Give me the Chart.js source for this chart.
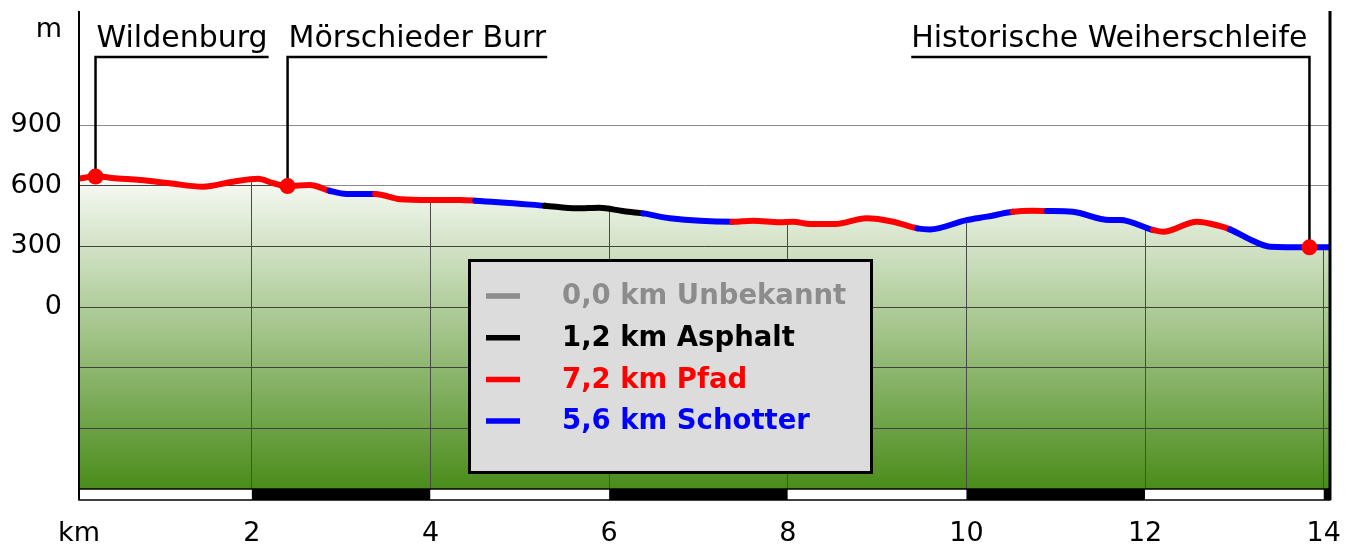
<!DOCTYPE html>
<html>
<head>
<meta charset="utf-8">
<script src="https://cdn.jsdelivr.net/npm/chart.js@4/dist/chart.umd.min.js"></script>
<style>
  html, body { margin: 0; padding: 0; background: #ffffff; }
  canvas { display: block; }
</style>
</head>
<body>
<canvas id="profile" width="1358" height="545"></canvas>
<script>
// DATA

const kmValues = [0.065, 0.25, 0.50, 0.75, 1.08, 1.45, 1.79, 2.07, 2.24, 2.40, 2.65, 2.87, 3.06, 3.38, 3.66, 4.00, 4.33, 4.50,
  5.28, 5.64, 5.89, 6.15, 6.38, 6.68, 7.38, 7.61, 7.91, 8.06, 8.25, 8.53, 8.88, 9.18, 9.45, 9.59, 10.00, 10.23, 10.52,
  10.74, 10.90, 11.19, 11.60, 11.72, 12.09, 12.20, 12.58, 12.84, 12.95, 13.17, 13.40, 13.84, 14.07];
const elevValues = [636, 645, 636, 628, 612, 595, 620, 634, 612, 598, 603, 575, 559, 559, 533, 529, 529, 526,
  501, 488, 491, 475, 463, 439, 422, 427, 419, 422, 410, 410, 439, 422, 389, 384, 430, 447, 471,
  476, 475, 471, 430, 430, 381, 372, 422, 400, 384, 335, 298, 295, 295];

// surface type of each stretch between two breaks
const surfaceBreaks = [0.065, 2.87, 3.38, 4.50, 5.28, 6.38, 7.38, 9.45, 10.52, 10.90, 12.09, 12.95, 14.07];
const surfaceOfStretch = ["Pfad", "Schotter", "Pfad", "Schotter", "Asphalt", "Schotter", "Pfad", "Schotter",
  "Pfad", "Schotter", "Pfad", "Schotter"];

const legendSurfaces = ["Unbekannt", "Asphalt", "Pfad", "Schotter"];
const legendKm = ["0,0", "1,2", "7,2", "5,6"];
const surfaceColors = ["#8c8c8c", "#000000", "#ff0000", "#0000ff"];

const poiNames = ["Wildenburg", "Mörschieder Burr", "Historische Weiherschleife"];
const poiKm = [0.25, 2.40, 13.84];
const poiElev = [645, 598, 295];
const poiSide = ["right", "right", "left"];

const xMin = 0.065;
const xMax = 14.07;
const xTickValues = [2, 4, 6, 8, 10, 12, 14];
const yMin = -900;
const yMax = 1464;
const yTickValues = [-900, -600, -300, 0, 300, 600, 900];
const yTickLabels = ["", "", "", "0", "300", "600", "900"];
const yUnitPos = 1371;

// HELPERS

function surfaceColor(name) {
  return surfaceColors[legendSurfaces.indexOf(name)];
}

function colorAtKm(km) {
  for (let i = 0; i < surfaceOfStretch.length; i++) {
    if (km >= surfaceBreaks[i] - 1e-6 && km < surfaceBreaks[i + 1] - 1e-6) {
      return surfaceColor(surfaceOfStretch[i]);
    }
  }
  return surfaceColor(surfaceOfStretch[surfaceOfStretch.length - 1]);
}

function alignPx(p) {
  return Math.round(p - 0.5) + 0.5;
}

const FONT = "'DejaVu Sans', 'Liberation Sans', sans-serif";
const profilePoints = kmValues.map((km, i) => ({ x: km, y: elevValues[i] }));

// PLUGINS

const background = {
  id: "background",
  beforeDraw(chart) {
    const { ctx, chartArea: a, scales } = chart;
    const g = ctx.createLinearGradient(0, scales.y.getPixelForValue(700), 0, a.bottom);
    g.addColorStop(0, "#ffffff");
    g.addColorStop(1, "#4a8c1a");
    ctx.save();
    ctx.fillStyle = g;
    ctx.fillRect(a.left, a.top, a.right - a.left, a.bottom - a.top);
    ctx.restore();
  }
};

// gray grid lines over the white sky and pointer lines of the places
const overlay = {
  id: "overlay",
  beforeDatasetsDraw(chart) {
    const { ctx, chartArea: a, scales } = chart;
    ctx.save();
    ctx.strokeStyle = "rgba(60,60,60,0.6)";
    ctx.lineWidth = 1;
    yTickValues.forEach(v => {
      const y = alignPx(scales.y.getPixelForValue(v));
      ctx.beginPath();
      ctx.moveTo(a.left, y);
      ctx.lineTo(a.right, y);
      ctx.stroke();
    });

    ctx.font = "30px " + FONT;
    ctx.strokeStyle = "#000000";
    ctx.lineWidth = 2.5;
    const lineY = 57;
    poiNames.forEach((name, i) => {
      const px = scales.x.getPixelForValue(poiKm[i]);
      const py = scales.y.getPixelForValue(poiElev[i]);
      const w = ctx.measureText(name).width;
      const endX = poiSide[i] === "right" ? px + 2 + w : px - 2 - w;
      ctx.beginPath();
      ctx.moveTo(px, py);
      ctx.lineTo(px, lineY);
      ctx.lineTo(endX, lineY);
      ctx.stroke();
    });
    ctx.restore();
  },
  afterDraw(chart) {
    const { ctx, chartArea: a, scales } = chart;
    ctx.save();

    // place names
    ctx.font = "30px " + FONT;
    ctx.fillStyle = "#000000";
    ctx.textBaseline = "alphabetic";
    poiNames.forEach((name, i) => {
      const px = scales.x.getPixelForValue(poiKm[i]);
      if (poiSide[i] === "right") {
        ctx.textAlign = "left";
        ctx.fillText(name, px + 1, 47);
      } else {
        ctx.textAlign = "right";
        ctx.fillText(name, px - 2, 47);
      }
    });

    // km scale bar under the plot
    const barTop = a.bottom;
    const barBottom = a.bottom + 11;
    const edges = [xMin].concat(xTickValues, [xMax]);
    for (let i = 0; i < edges.length - 1; i++) {
      const x0 = scales.x.getPixelForValue(edges[i]);
      const x1 = scales.x.getPixelForValue(edges[i + 1]);
      ctx.fillStyle = i % 2 === 0 ? "#ffffff" : "#000000";
      ctx.fillRect(x0, barTop, x1 - x0, barBottom - barTop);
    }
    ctx.strokeStyle = "#000000";
    ctx.lineWidth = 1.5;
    ctx.strokeRect(a.left, barTop, a.right - a.left, barBottom - barTop);

    // axis lines
    ctx.lineWidth = 2;
    ctx.beginPath();
    ctx.moveTo(a.left, a.top);
    ctx.lineTo(a.left, barBottom);
    ctx.stroke();
    ctx.lineWidth = 3;
    ctx.beginPath();
    ctx.moveTo(a.right, a.top);
    ctx.lineTo(a.right, barBottom);
    ctx.stroke();

    // legend box
    const bx = 469.5, by = 260.5, bw = 402, bh = 212;
    ctx.fillStyle = "#dcdcdc";
    ctx.fillRect(bx, by, bw, bh);
    ctx.lineWidth = 3;
    ctx.strokeRect(bx, by, bw, bh);
    ctx.font = "bold 27.5px " + FONT;
    ctx.textAlign = "left";
    ctx.textBaseline = "middle";
    legendSurfaces.forEach((name, i) => {
      const y = 296 + i * 41.7;
      ctx.strokeStyle = surfaceColors[i];
      ctx.lineWidth = 5.5;
      ctx.beginPath();
      ctx.moveTo(486, y);
      ctx.lineTo(520, y);
      ctx.stroke();
      ctx.fillStyle = surfaceColors[i];
      ctx.fillText(legendKm[i] + " km " + name, 562, y + 1);
    });

    ctx.restore();
  }
};

// CHART

new Chart(document.getElementById("profile"), {
  type: "line",
  data: {
    datasets: [
      {
        label: "Orte",
        data: poiKm.map((km, i) => ({ x: km, y: poiElev[i] })),
        showLine: false,
        pointRadius: 8,
        pointBackgroundColor: "#ff0000",
        pointBorderWidth: 0
      },
      {
        label: "Höhe",
        data: profilePoints,
        borderColor: "#ff0000",
        borderWidth: 6,
        borderCapStyle: "round",
        borderJoinStyle: "round",
        cubicInterpolationMode: "monotone",
        pointRadius: 0,
        fill: false,
        segment: {
          borderColor: c => colorAtKm(c.p0.parsed.x)
        }
      },
      {
        // white sky above the profile
        label: "Himmel",
        data: profilePoints,
        borderWidth: 0,
        borderColor: "rgba(0,0,0,0)",
        cubicInterpolationMode: "monotone",
        pointRadius: 0,
        fill: "end",
        backgroundColor: "#ffffff"
      }
    ]
  },
  options: {
    responsive: false,
    devicePixelRatio: 1,
    animation: false,
    layout: { padding: { left: 0, right: 28, top: 11, bottom: 0 } },
    plugins: {
      legend: { display: false },
      tooltip: { enabled: false },
      filler: { drawTime: "beforeDatasetsDraw" }
    },
    scales: {
      x: {
        type: "linear",
        min: xMin,
        max: xMax,
        afterBuildTicks: s => { s.ticks = [xMin].concat(xTickValues).map(v => ({ value: v })); },
        afterFit: s => { s.height = 56; s.paddingLeft = 0; s.paddingRight = 0; },
        border: { display: false },
        grid: {
          drawTicks: false,
          lineWidth: 1,
          color: c => (c.tick && c.tick.value === xMin ? "rgba(0,0,0,0)" : "#4a4a4a")
        },
        ticks: {
          autoSkip: false,
          maxRotation: 0,
          padding: 29,
          color: "#000000",
          font: { family: FONT, size: 27 },
          callback: v => (v === xMin ? "km" : String(v))
        }
      },
      y: {
        type: "linear",
        min: yMin,
        max: yMax,
        afterBuildTicks: s => { s.ticks = yTickValues.concat([yUnitPos]).map(v => ({ value: v })); },
        afterFit: s => { s.width = 79; s.paddingTop = 0; s.paddingBottom = 0; },
        border: { display: false },
        grid: {
          drawTicks: false,
          lineWidth: 1,
          color: c => (c.tick && c.tick.value === yUnitPos ? "rgba(0,0,0,0)" : "#4a4a4a")
        },
        ticks: {
          autoSkip: false,
          padding: 17,
          color: "#000000",
          font: { family: FONT, size: 27 },
          callback: v => {
            if (v === yUnitPos) return "m";
            const i = yTickValues.indexOf(v);
            return i >= 0 ? yTickLabels[i] : "";
          }
        }
      }
    }
  },
  plugins: [background, overlay]
});
</script>
</body>
</html>
